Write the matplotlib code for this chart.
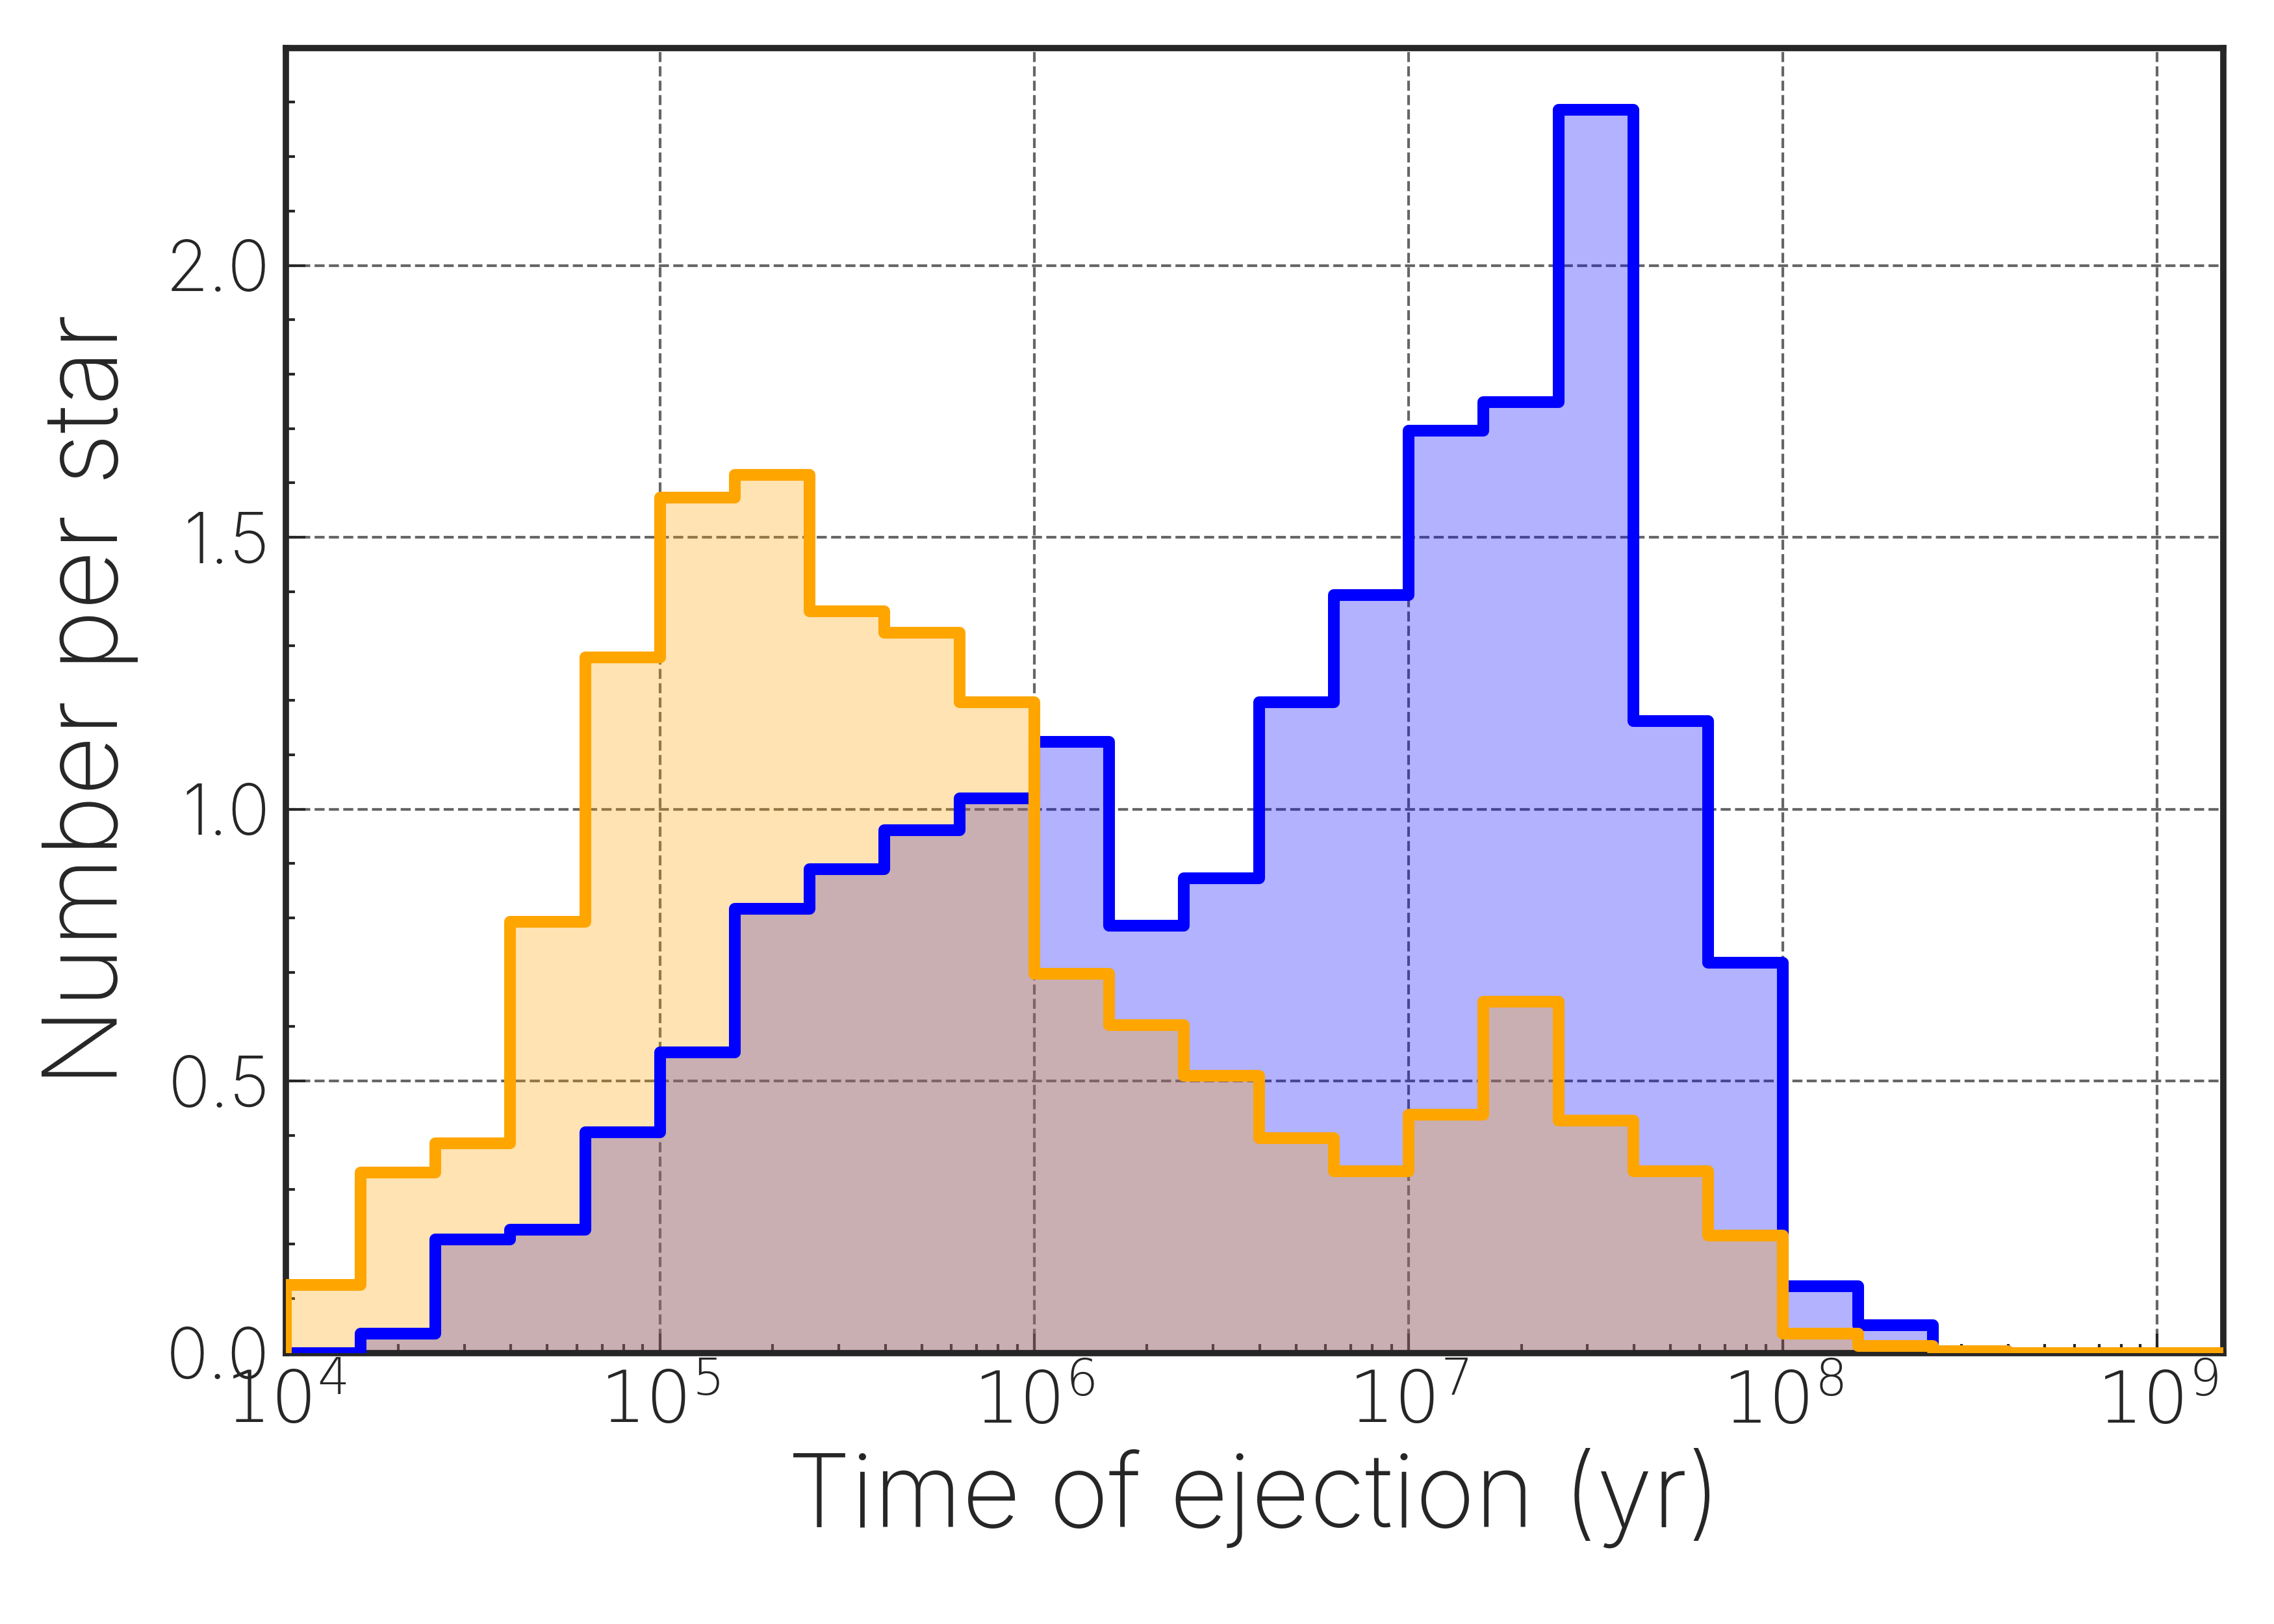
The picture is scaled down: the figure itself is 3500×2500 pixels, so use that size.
import numpy as np
import matplotlib
matplotlib.use("Agg")
import matplotlib.pyplot as plt
from matplotlib import ticker

# Bin edges (log10 of time, 5 bins per decade)
log_edges = np.arange(4.0, 9.41, 0.2)

# Number per star in each bin
blue_vals = [0.0, 0.035, 0.208, 0.227, 0.406, 0.553, 0.817, 0.889, 0.961, 1.02,
             1.124, 0.785, 0.873, 1.196, 1.394, 1.696, 1.749, 2.286, 1.162, 0.718,
             0.123, 0.051, 0.003, 0.0, 0.0, 0.0, 0.0]
orange_vals = [0.125, 0.331, 0.385, 0.793, 1.279, 1.573, 1.615, 1.364, 1.324, 1.196,
               0.697, 0.603, 0.51, 0.395, 0.334, 0.438, 0.646, 0.427, 0.334, 0.216,
               0.035, 0.013, 0.003, 0.0, 0.0, 0.0, 0.0]

edges = 10 ** log_edges
nb = len(edges) - 1
blue_vals = np.array(blue_vals[:nb])
orange_vals = np.array(orange_vals[:nb])

plt.rcParams['font.family'] = ['Inter', 'DejaVu Sans']
plt.rcParams['font.weight'] = 'light'
plt.rcParams['axes.labelweight'] = 'light'
plt.rcParams['mathtext.fontset'] = 'dejavusans'
plt.rcParams['axes.linewidth'] = 1.4
plt.rcParams['text.color'] = '#262626'
plt.rcParams['axes.labelcolor'] = '#262626'
plt.rcParams['xtick.color'] = '#262626'
plt.rcParams['ytick.color'] = '#262626'

fig = plt.figure(figsize=(7, 5), dpi=500)
ax = fig.add_axes([0.1256, 0.167, 0.8521, 0.8035])

# fills first, outlines on top
ax.stairs(blue_vals, edges, fill=True, color='blue', alpha=0.3, lw=0, zorder=2)
ax.stairs(orange_vals, edges, fill=True, color='orange', alpha=0.3, lw=0, zorder=2)
ax.stairs(blue_vals, edges, color='blue', lw=2.6, joinstyle='round', zorder=3)
ax.stairs(orange_vals, edges, color='orange', lw=2.6, joinstyle='round', zorder=3)

ax.set_xscale('log')
ax.set_xlim(1e4, 1.5e9)
ax.set_ylim(0, 2.4)
ax.set_yticks([0.0, 0.5, 1.0, 1.5, 2.0])
ax.set_yticks(np.arange(0.1, 2.4, 0.1), minor=True)
# decade labels in plain mathtext (DejaVu digits, as in the original)
ax.xaxis.set_major_formatter(ticker.FuncFormatter(lambda v, p: r'$10^{%d}$' % round(np.log10(v))))

for s in ax.spines.values():
    s.set_color('#262626')

ax.tick_params(which='both', direction='in', top=False, right=False)
ax.tick_params(axis='x', labelsize=16)
ax.tick_params(axis='y', labelsize=15.5)
ax.tick_params(which='major', length=4.3, width=0.6)
ax.tick_params(which='minor', length=2.0, width=0.6)
ax.grid(True, which='major', linestyle='--', color='#666666', lw=0.6, zorder=1)
ax.set_axisbelow(True)

ax.set_xlabel('Time of ejection (yr)', fontsize=22.5, labelpad=2)
ax.set_ylabel('Number per star', fontsize=23, labelpad=6)

fig.savefig('out.png', dpi=500)
